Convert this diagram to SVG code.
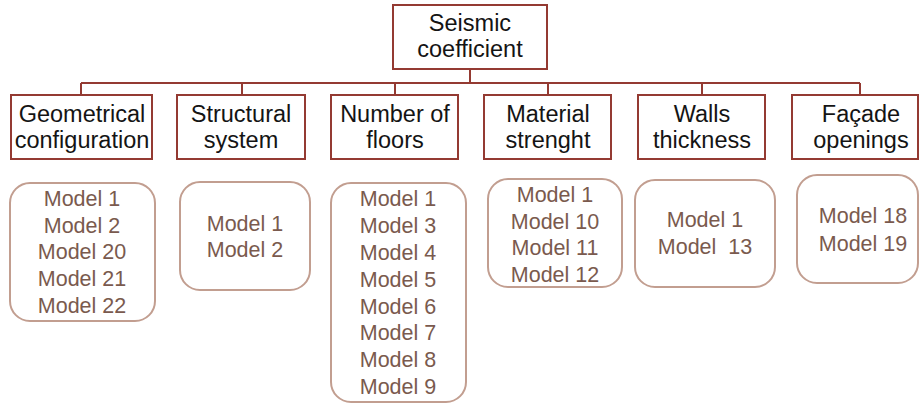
<svg xmlns="http://www.w3.org/2000/svg" width="919" height="403" viewBox="0 0 919 403">
  <style>
    .cat rect { fill: #ffffff; stroke: #943a32; stroke-width: 2; }
    .cat text { font-family: "Liberation Sans", Arial, sans-serif; font-size: 23.5px; fill: #141414; text-anchor: middle; }
    .mdl rect { fill: #ffffff; stroke: #c29e90; stroke-width: 2; }
    .mdl text { font-family: "Liberation Sans", Arial, sans-serif; font-size: 21.5px; fill: #7a5a4e; text-anchor: middle; }
    .wire { fill: none; stroke: #943a32; stroke-width: 2; }
  </style>

  <g id="connectors" class="wire">
    <line x1="470" y1="69" x2="470" y2="83"/>
    <line x1="81" y1="83" x2="860" y2="83"/>
    <line x1="81" y1="83" x2="81" y2="95"/>
    <line x1="242" y1="83" x2="242" y2="95"/>
    <line x1="395" y1="83" x2="395" y2="95"/>
    <line x1="548" y1="83" x2="548" y2="95"/>
    <line x1="702" y1="83" x2="702" y2="95"/>
    <line x1="860" y1="83" x2="860" y2="95"/>
  </g>

  <g id="seismic-coefficient" class="cat">
    <rect x="393" y="5" width="154" height="64"/>
    <text x="470" y="31">Seismic</text>
    <text x="470" y="57">coefficient</text>
  </g>

  <g id="geometrical-configuration" class="cat">
    <rect x="11" y="95" width="141" height="64"/>
    <text x="82" y="122">Geometrical</text>
    <text x="82" y="148">configuration</text>
  </g>
  <g id="structural-system" class="cat">
    <rect x="177" y="95" width="128" height="64"/>
    <text x="241" y="122">Structural</text>
    <text x="241" y="148">system</text>
  </g>
  <g id="number-of-floors" class="cat">
    <rect x="331" y="95" width="127" height="64"/>
    <text x="395" y="122">Number of</text>
    <text x="395" y="148">floors</text>
  </g>
  <g id="material-strenght" class="cat">
    <rect x="484" y="95" width="127" height="64"/>
    <text x="548" y="122">Material</text>
    <text x="548" y="148">strenght</text>
  </g>
  <g id="walls-thickness" class="cat">
    <rect x="638" y="95" width="127" height="64"/>
    <text x="702" y="122">Walls</text>
    <text x="702" y="148">thickness</text>
  </g>
  <g id="facade-openings" class="cat">
    <rect x="792" y="95" width="126" height="64"/>
    <text x="861" y="122">Façade</text>
    <text x="861" y="148">openings</text>
  </g>

  <g id="models-geometrical" class="mdl">
    <rect x="10" y="183" width="145" height="138" rx="20"/>
    <text x="82" y="206">Model 1</text>
    <text x="82" y="233">Model 2</text>
    <text x="82" y="259">Model 20</text>
    <text x="82" y="286">Model 21</text>
    <text x="82" y="313">Model 22</text>
  </g>
  <g id="models-structural" class="mdl">
    <rect x="180" y="182" width="130" height="108" rx="20"/>
    <text x="245" y="231">Model 1</text>
    <text x="245" y="257">Model 2</text>
  </g>
  <g id="models-floors" class="mdl">
    <rect x="331" y="183" width="135" height="219" rx="20"/>
    <text x="398" y="206">Model 1</text>
    <text x="398" y="233">Model 3</text>
    <text x="398" y="260">Model 4</text>
    <text x="398" y="287">Model 5</text>
    <text x="398" y="314">Model 6</text>
    <text x="398" y="340">Model 7</text>
    <text x="398" y="367">Model 8</text>
    <text x="398" y="394">Model 9</text>
  </g>
  <g id="models-material" class="mdl">
    <rect x="488" y="179" width="134" height="108" rx="20"/>
    <text x="555" y="202">Model 1</text>
    <text x="555" y="229">Model 10</text>
    <text x="555" y="255">Model 11</text>
    <text x="555" y="282">Model 12</text>
  </g>
  <g id="models-walls" class="mdl">
    <rect x="635" y="180" width="140" height="107" rx="20"/>
    <text x="705" y="227">Model 1</text>
    <text x="705" y="254" xml:space="preserve">Model  13</text>
  </g>
  <g id="models-facade" class="mdl">
    <rect x="797" y="175" width="121" height="108" rx="20"/>
    <text x="863" y="223">Model 18</text>
    <text x="863" y="251">Model 19</text>
  </g>
</svg>
